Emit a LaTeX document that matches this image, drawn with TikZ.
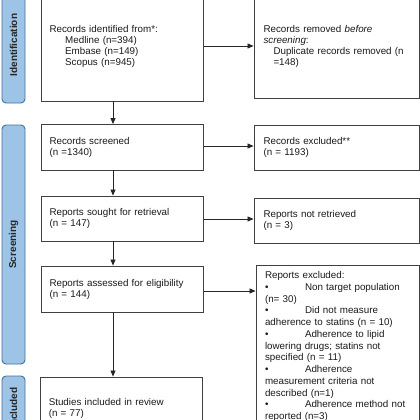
\documentclass[tikz,border=0pt]{standalone}
\usepackage{fontspec}
\setmainfont{Liberation Sans}
\usetikzlibrary{arrows.meta}
\definecolor{barfill}{HTML}{9DC3E6}
\definecolor{barline}{HTML}{41719C}
\definecolor{boxline}{HTML}{404040}
\begin{document}
\begin{tikzpicture}[x=1pt,y=-1pt,
 box/.style={draw=boxline, line width=0.9pt, rectangle, inner ysep=0pt, align=left, text=black!90,
   font=\fontsize{9.8}{11}\selectfont},
 lbox/.style={box, inner xsep=8.5pt, text width=145.5pt},
 rbox/.style={box, inner xsep=9.5pt, text width=146pt},
 bar/.style={draw=barline, fill=barfill, line width=0.9pt, rounded corners=4pt, rotate=90,
   minimum height=23pt, inner sep=0pt, text=black!85, font=\fontsize{10}{12}\selectfont\bfseries},
 arr/.style={-{Triangle[length=6pt,width=5pt]}, line width=0.8pt, draw=black!85}
]
\useasboundingbox (0,0) rectangle (420,420);
\clip (0,0) rectangle (420,420);

% phase bars
\node[bar, minimum width=116pt] (pid) at (13.5,45) {Identification};
\node[bar, minimum width=239pt] (pscr) at (13.5,244.5) {Screening};
\node[bar, minimum width=64pt] (pinc) at (13.5,408) {Included};

% left column
\node[lbox, minimum height=109pt] (b1) at (122.25,46.5) {Records identified from*:\\
\hspace*{15.7pt}Medline (n=394)\\
\hspace*{15.7pt}Embase (n=149)\\
\hspace*{15.7pt}Scopus (n=945)};
\node[lbox, minimum height=45.5pt] (b2) at (122.25,147.25) {Records screened\\(n =1340)};
\node[lbox, minimum height=45pt] (b3) at (122.25,218.5) {Reports sought for retrieval\\(n = 147)};
\node[lbox, minimum height=46pt] (b4) at (122.25,289) {Reports assessed for eligibility\\(n = 144)};
\node[lbox, minimum height=63pt] (b5) at (121.5,408.5) {Studies included in review\\(n = 77)};

% right column
\node[rbox, minimum height=103pt] (r1) at (336.5,46.5) {Records removed \textit{before}\\
\textit{screening}:\\
\hspace*{10pt}Duplicate records removed (n\\
\hspace*{10pt}=148)};
\node[rbox, minimum height=45pt] (r2) at (336.5,147.5) {Records excluded**\\(n = 1193)};
\node[rbox, minimum height=45pt] (r3) at (336.5,220.5) {Reports not retrieved\\(n = 3)};
\node[rbox, inner xsep=9pt, text width=145pt, minimum height=163pt,
  font=\fontsize{9.8}{11.75}\selectfont] (r4) at (337.5,346.5) {Reports excluded:\\
\makebox[40pt][l]{\textbullet}Non target population\\
(n= 30)\\
\makebox[40pt][l]{\textbullet}Did not measure\\
adherence to statins (n = 10)\\
\makebox[40pt][l]{\textbullet}Adherence to lipid\\
lowering drugs; statins not\\
specified (n = 11)\\
\makebox[40pt][l]{\textbullet}Adherence\\
measurement criteria not\\
described (n=1)\\
\makebox[40pt][l]{\textbullet}Adherence method not\\
reported (n=3)};

% vertical arrows
\draw[arr] (113,0 |- b1.south) -- (113,0 |- b2.north);
\draw[arr] (113,0 |- b2.south) -- (113,0 |- b3.north);
\draw[arr] (113,0 |- b3.south) -- (113,0 |- b4.north);
\draw[arr] (113,0 |- b4.south) -- (113,0 |- b5.north);

% horizontal arrows
\draw[arr] (b1.east |- 0,46) -- (r1.west |- 0,46);
\draw[arr] (b2.east |- 0,146) -- (r2.west |- 0,146);
\draw[arr] (b3.east |- 0,219) -- (r3.west |- 0,219);
\draw[arr] (b4.east |- 0,291) -- (r4.west |- 0,291);
\end{tikzpicture}
\end{document}
